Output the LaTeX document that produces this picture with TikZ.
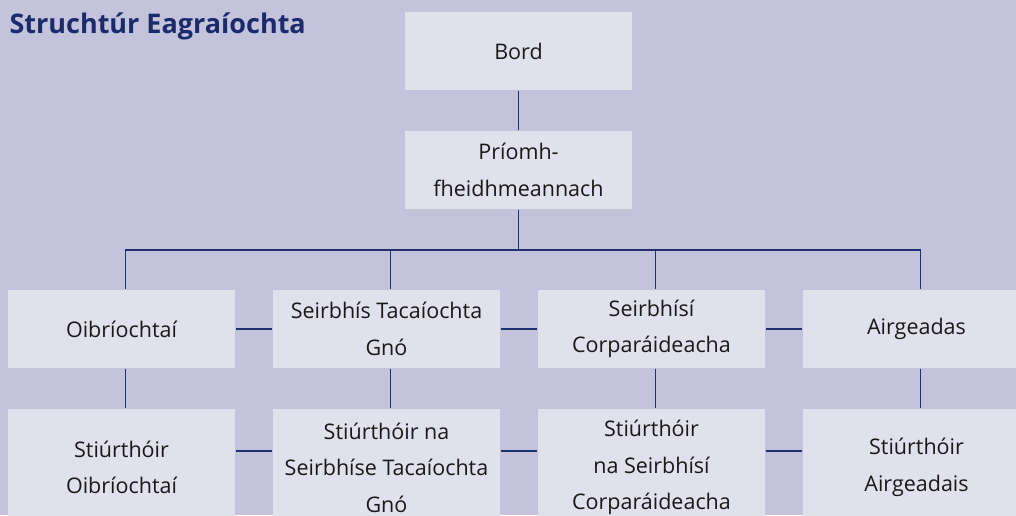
\documentclass[tikz,border=0pt]{standalone}
\usepackage{fontspec}
\setmainfont{Open Sans}
\definecolor{bgc}{HTML}{C3C3DB}
\definecolor{boxc}{HTML}{E1E1EE}
\definecolor{navy}{HTML}{23306F}
\definecolor{titlec}{HTML}{1B2A6B}
\begin{document}
\begin{tikzpicture}[x=1pt, y=1pt,
	line width=1.1pt, % connector style
	box/.style={fill=boxc, minimum width=227pt, align=center, inner sep=0pt,
		font=\fontsize{21.5}{36.5}\selectfont, text=black!90},
	small/.style={box, minimum height=78pt},
	tall/.style={box, minimum height=117pt},
	link/.style={draw=navy}]
	\useasboundingbox (0,0) rectangle (1016,-515);
	\clip (0,0) rectangle (1016,-515);
	\fill[bgc] (0,0) rectangle (1016,-515);
	\node[anchor=west, inner sep=0pt, text=titlec, font=\fontsize{27}{32}\selectfont\bfseries] (title) at (9,-26) {Struchtúr Eagraíochta};
	% top of the chart
	\node[small] (bord) at (518.5,-51)  {Bord};
	\node[small] (prio) at (518.5,-170) {Príomh-\\fheidhmeannach};
	% first row
	\node[small] (ops)  at (121.5,-329) {Oibríochtaí};
	\node[small] (gno)  at (386.5,-329) {Seirbhís Tacaíochta\\Gnó};
	\node[small] (corp) at (651.5,-329) {Seirbhísí\\Corparáideacha};
	\node[small] (airg) at (916.5,-329) {Airgeadas};
	% second row
	\node[tall] (dops)  at (121.5,-467.5) {Stiúrthóir\\Oibríochtaí};
	\node[tall] (dgno)  at (386.5,-467.5) {Stiúrthóir na\\Seirbhíse Tacaíochta\\Gnó};
	\node[tall] (dcorp) at (651.5,-467.5) {Stiúrthóir\\na Seirbhísí\\Corparáideacha};
	\node[tall] (dairg) at (916.5,-467.5) {Stiúrthóir\\Airgeadais};
	\coordinate (bar) at (518.5,-250);
	\draw[link] (bord)--(prio);
	\draw[link] (prio.south)--(bar);
	\draw[link] ([xshift=4pt]ops.north) |- (bar) -| ([xshift=4pt]airg.north);
	\draw[link] ([xshift=4pt]gno.north) -- ([xshift=4pt]gno.north |- bar);
	\draw[link] ([xshift=4pt]corp.north) -- ([xshift=4pt]corp.north |- bar);
	\draw[link] ([xshift=4pt]ops.south)--([xshift=4pt]dops.north);
	\draw[link] ([xshift=4pt]gno.south)--([xshift=4pt]dgno.north);
	\draw[link] ([xshift=4pt]corp.south)--([xshift=4pt]dcorp.north);
	\draw[link] ([xshift=4pt]airg.south)--([xshift=4pt]dairg.north);
	\draw[link] (ops)--(gno);
	\draw[link] (gno)--(corp);
	\draw[link] (corp)--(airg);
	\draw[link] ([yshift=16.5pt]dops.east)--([yshift=16.5pt]dgno.west);
	\draw[link] ([yshift=16.5pt]dgno.east)--([yshift=16.5pt]dcorp.west);
	\draw[link] ([yshift=16.5pt]dcorp.east)--([yshift=16.5pt]dairg.west);
\end{tikzpicture}
\end{document}
